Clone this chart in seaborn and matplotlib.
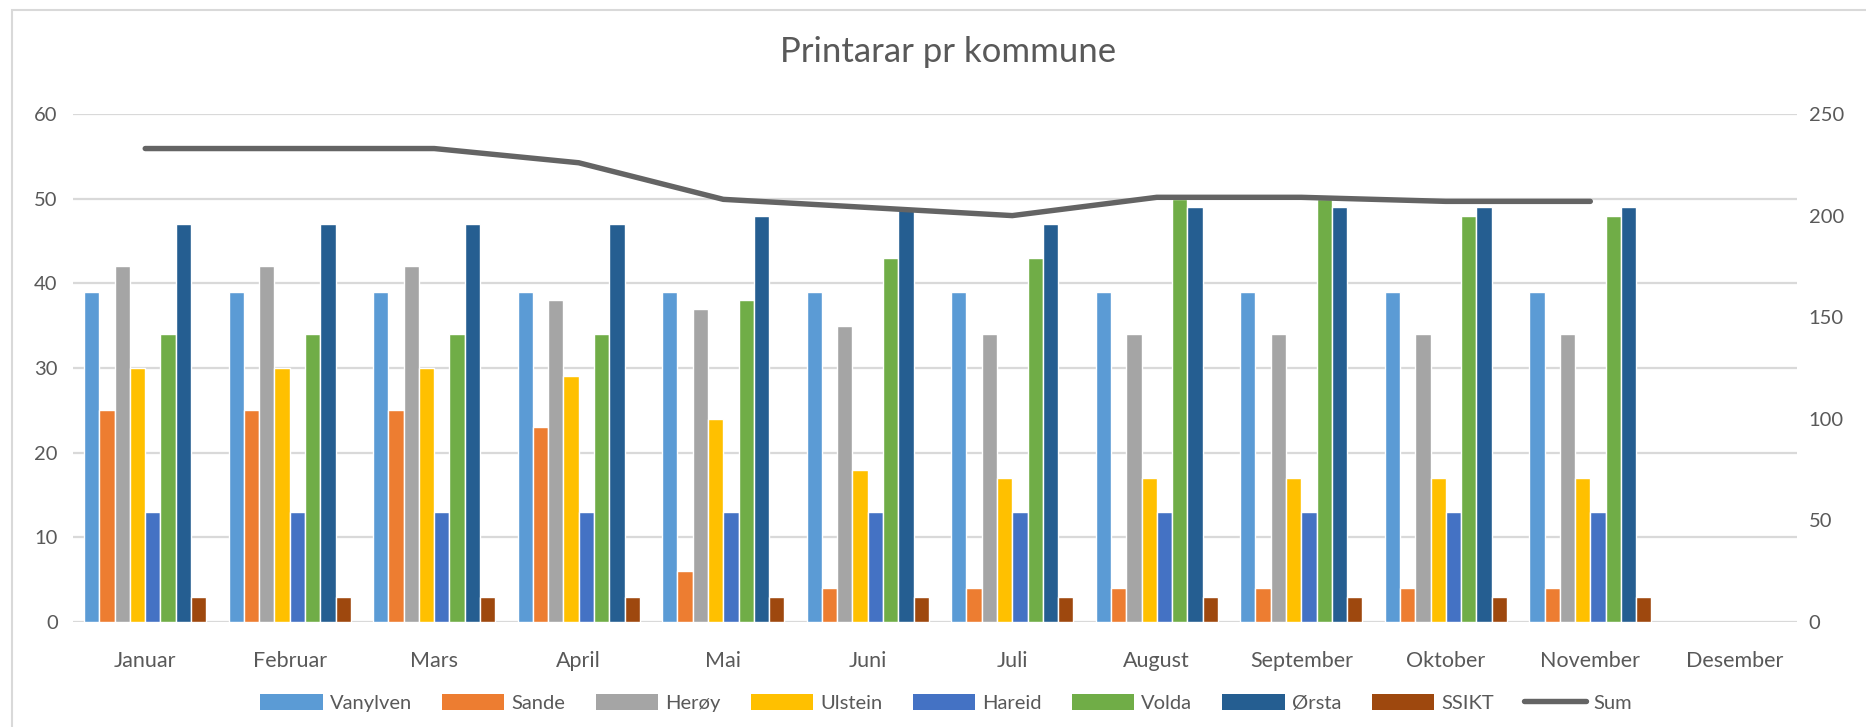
"""
Printarar pr kommune: monthly printer counts per municipality, bars on the
left axis and the monthly total as a line on the right axis.
"""

import matplotlib.pyplot as plt
import pandas as pd
import seaborn as sns
from matplotlib.lines import Line2D
from matplotlib.patches import Patch, Rectangle

MONTHS = ["Januar", "Februar", "Mars", "April", "Mai", "Juni", "Juli",
          "August", "September", "Oktober", "November", "Desember"]
KOMMUNER = ["Vanylven", "Sande", "Herøy", "Ulstein", "Hareid", "Volda",
            "Ørsta", "SSIKT"]

# Jan..Nov, Desember has no data yet
VANYLVEN = [39, 39, 39, 39, 39, 39, 39, 39, 39, 39, 39]
SANDE = [25, 25, 25, 23, 6, 4, 4, 4, 4, 4, 4]
HEROY = [42, 42, 42, 38, 37, 35, 34, 34, 34, 34, 34]
ULSTEIN = [30, 30, 30, 29, 24, 18, 17, 17, 17, 17, 17]
HAREID = [13, 13, 13, 13, 13, 13, 13, 13, 13, 13, 13]
VOLDA = [34, 34, 34, 34, 38, 43, 43, 50, 50, 48, 48]
ORSTA = [47, 47, 47, 47, 48, 49, 47, 49, 49, 49, 49]
SSIKT = [3, 3, 3, 3, 3, 3, 3, 3, 3, 3, 3]
SUM = [233, 233, 233, 226, 208, 204, 200, 209, 209, 207, 207]

COLORS = {"Vanylven": "#5B9BD5", "Sande": "#ED7D31", "Herøy": "#A5A5A5",
          "Ulstein": "#FFC000", "Hareid": "#4472C4", "Volda": "#70AD47",
          "Ørsta": "#255E91", "SSIKT": "#9E480E"}
SUM_COLOR = "#646464"
TEXT = "#595959"
GRID = "#D9D9D9"

sns.set_theme(style="white")
plt.rcParams["font.family"] = ["Lato", "DejaVu Sans"]

series = [VANYLVEN, SANDE, HEROY, ULSTEIN, HAREID, VOLDA, ORSTA, SSIKT]
rows = []
for name, vals in zip(KOMMUNER, series):
    for month, v in zip(MONTHS, vals):
        rows.append({"Månad": month, "Kommune": name, "Tal": v})
df = pd.DataFrame(rows)

XLIM = (-0.5, 11.43)

fig = plt.figure(figsize=(18.66, 7.27), dpi=100)
ax = fig.add_axes([0.0391, 0.1444, 0.9239, 0.6988])

sns.barplot(data=df, x="Månad", y="Tal", hue="Kommune", order=MONTHS,
            hue_order=KOMMUNER, palette=COLORS, width=0.845, gap=0,
            errorbar=None, saturation=1, ax=ax, legend=False, zorder=2)
ax.set_ylim(0, 60)
ax.set_yticks(range(0, 61, 10))
ax.set_xlim(*XLIM)
ax.set_xlabel("")
ax.set_ylabel("")
ax.grid(axis="y", color=GRID, lw=1.6, zorder=0)
ax.set_axisbelow(True)
for s in ax.spines.values():
    s.set_visible(False)
ax.tick_params(axis="y", length=0, labelsize=14.5, labelcolor=TEXT, pad=11)
ax.tick_params(axis="x", length=0, labelsize=15.5, labelcolor=TEXT, pad=21)

ax2 = ax.twinx()
sns.lineplot(x=list(range(len(SUM))), y=SUM, ax=ax2, color=SUM_COLOR,
             lw=3.9, solid_capstyle="round", solid_joinstyle="round")
ax2.set_ylim(0, 250)
ax2.set_yticks(range(0, 251, 50))
ax2.set_xlim(*XLIM)
for s in ax2.spines.values():
    s.set_visible(False)
ax2.tick_params(axis="y", length=0, labelsize=14.5, labelcolor=TEXT, pad=8.5)

fig.text(948 / 1866, 1 - 52 / 727, "Printarar pr kommune", ha="center",
         va="center", fontsize=25, color=TEXT)

handles = [Patch(facecolor=COLORS[k], edgecolor="none", label=k)
           for k in KOMMUNER]
handles.append(Line2D([], [], color=SUM_COLOR, lw=3.9,
                      solid_capstyle="round", label="Sum"))
fig.legend(handles=handles, loc="center", ncol=9, frameon=False,
           bbox_to_anchor=(946 / 1866, 1 - 703 / 727), fontsize=14.5,
           labelcolor=TEXT, handlelength=3.1, handleheight=0.82,
           handletextpad=0.35, columnspacing=1.5)

# chart frame
fig.patches.append(Rectangle((12 / 1866, -0.05), 1.1, 1 - 10 / 727 + 0.05,
                             transform=fig.transFigure, fill=False,
                             edgecolor=GRID, lw=1.5))

fig.savefig("out.png", dpi=100)
